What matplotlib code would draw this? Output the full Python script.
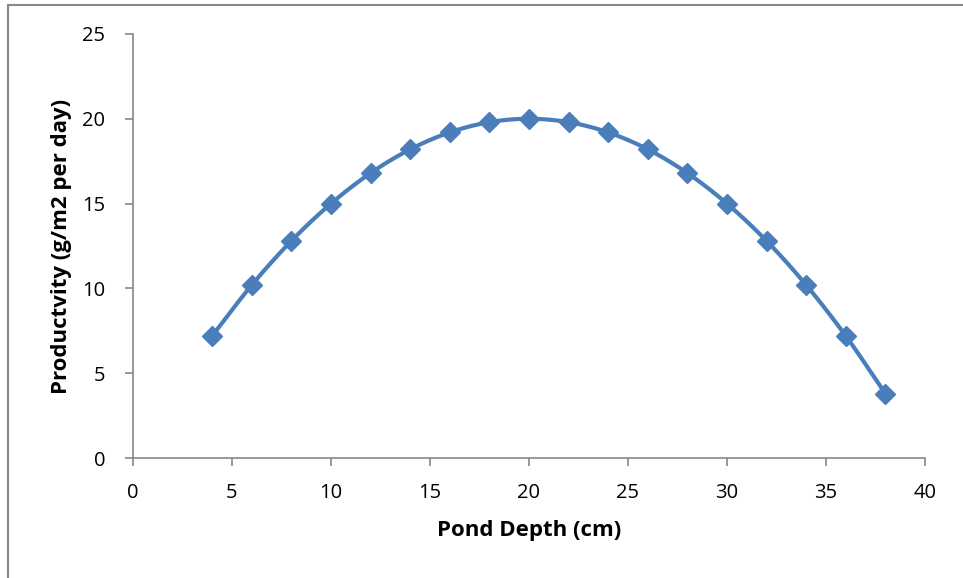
import numpy as np
import matplotlib.pyplot as plt
from matplotlib.patches import Rectangle

depth = [4, 6, 8, 10, 12, 14, 16, 18, 20, 22, 24, 26, 28, 30, 32, 34, 36, 38]
productivity = [7.2, 10.2, 12.8, 15.0, 16.8, 18.2, 19.2, 19.8, 20.0, 19.8,
                19.2, 18.2, 16.8, 15.0, 12.8, 10.2, 7.2, 3.8]


def smooth(x, y, n=20):
    # Catmull-Rom curve through the points, like a spreadsheet "smoothed line"
    x = np.asarray(x, float)
    y = np.asarray(y, float)
    px = np.concatenate([[2 * x[0] - x[1]], x, [2 * x[-1] - x[-2]]])
    py = np.concatenate([[2 * y[0] - y[1]], y, [2 * y[-1] - y[-2]]])
    t = np.linspace(0, 1, n)[:, None]
    xs, ys = [], []
    for i in range(1, len(px) - 2):
        for p, out in ((px, xs), (py, ys)):
            p0, p1, p2, p3 = p[i - 1], p[i], p[i + 1], p[i + 2]
            seg = 0.5 * (2 * p1 + (-p0 + p2) * t
                         + (2 * p0 - 5 * p1 + 4 * p2 - p3) * t ** 2
                         + (-p0 + 3 * p1 - 3 * p2 + p3) * t ** 3)
            out.append(seg.ravel())
    return np.concatenate(xs), np.concatenate(ys)


plt.rcParams['font.family'] = ['Open Sans', 'DejaVu Sans']

fig = plt.figure(figsize=(9.63, 5.78), dpi=100)
ax = fig.add_axes([0.1381, 0.2076, 0.8224, 0.7336])

# outer frame of the chart area
fig.patches.append(Rectangle((8 / 963, -0.1), 1.2, 1 - 5 / 578 + 0.1,
                             transform=fig.transFigure, fill=False,
                             edgecolor='#878787', linewidth=1.5))

color = '#4A7EBB'
sx, sy = smooth(depth, productivity)
ax.plot(sx, sy, color=color, linewidth=3, solid_capstyle='round')
ax.plot(depth, productivity, linestyle='none', marker='D', markersize=10.5,
        color=color, markeredgecolor=color)

ax.set_xlim(0, 40)
ax.set_ylim(0, 25)
ax.set_xticks(range(0, 41, 5))
ax.set_yticks(range(0, 26, 5))

for s in ('top', 'right'):
    ax.spines[s].set_visible(False)
for s in ('left', 'bottom'):
    ax.spines[s].set_color('#878787')
    ax.spines[s].set_linewidth(1.2)
ax.tick_params(axis='both', colors='#878787', length=6, width=1.2,
               labelcolor='black', labelsize=14.5)
ax.tick_params(axis='x', pad=12)
ax.tick_params(axis='y', pad=14)

ax.set_xlabel('Pond Depth (cm)', fontsize=16, fontweight='bold', labelpad=12)
ax.set_ylabel('Productvity (g/m2 per day)', fontsize=16, fontweight='bold',
              labelpad=7)

fig.savefig('out.png', dpi=100)
